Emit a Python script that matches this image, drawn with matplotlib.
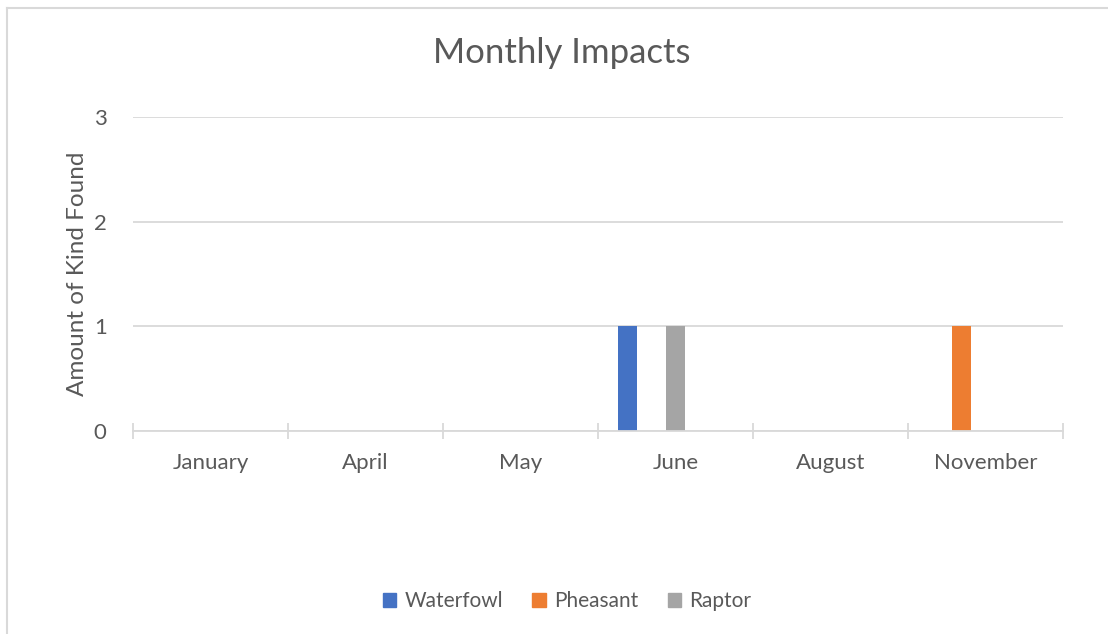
import matplotlib
matplotlib.use("Agg")
import matplotlib.pyplot as plt
import numpy as np
from matplotlib.lines import Line2D

months = ["January", "April", "May", "June", "August", "November"]
series_names = ["Waterfowl", "Pheasant", "Raptor"]
waterfowl = [0, 0, 0, 1, 0, 0]
pheasant = [0, 0, 0, 0, 0, 1]
raptor = [0, 0, 0, 1, 0, 0]
yticks = [0, 1, 2, 3]

colors = ["#4472C4", "#ED7D31", "#A5A5A5"]
offsets = [-0.31, -0.155, 0.0]
width = 0.123
text_color = "#595959"
grid_color = "#D9D9D9"

plt.rcParams['font.family'] = ['Lato', 'DejaVu Sans']

W, H = 1108, 634
fig = plt.figure(figsize=(W / 100, H / 100), dpi=100)
ax = fig.add_axes([133 / W, (H - 431) / H, (1063 - 133) / W, (431 - 117) / H])

x = np.arange(len(months))
for vals, c, off, name in zip([waterfowl, pheasant, raptor], colors, offsets, series_names):
    ax.bar(x + off, vals, width=width, color=c, label=name, zorder=3)

ax.set_xlim(-0.5, len(months) - 0.5)
ax.set_ylim(0, 3)
ax.set_yticks(yticks)
ax.set_yticklabels([str(v) for v in yticks])
ax.grid(axis='y', color=grid_color, linewidth=1.3, zorder=0)
for s in ['top', 'right', 'left']:
    ax.spines[s].set_visible(False)
ax.spines['bottom'].set_color(grid_color)
ax.spines['bottom'].set_linewidth(1.3)
ax.spines['bottom'].set_zorder(4)

ax.set_xticks(x)
ax.set_xticklabels(months)
ax.set_xticks(np.arange(-0.5, len(months)), minor=True)
ax.tick_params(axis='x', which='major', length=0, pad=16, labelsize=16, labelcolor=text_color)
ax.tick_params(axis='x', which='minor', length=11, direction='inout', color=grid_color, width=1.3)
ax.tick_params(axis='y', length=0, pad=19, labelsize=16, labelcolor=text_color)

ax.set_ylabel("Amount of Kind Found", fontsize=17.5, color=text_color, labelpad=4)
fig.text(562 / W, 1 - 53 / H, "Monthly Impacts", ha='center', va='center', fontsize=25, color=text_color)

handles = [plt.Rectangle((0, 0), 1, 1, color=c) for c in colors]
fig.legend(handles, series_names, loc='center', bbox_to_anchor=(567 / W, 1 - 601 / H), ncol=3,
           frameon=False, fontsize=15, labelcolor=text_color, handlelength=0.65, handleheight=0.65,
           handletextpad=0.4, columnspacing=1.4)

# chart border (extends beyond the image on right/bottom)
fig.add_artist(Line2D([7 / W, 7 / W], [0, 1 - 8 / H], color=grid_color, linewidth=1.5))
fig.add_artist(Line2D([7 / W, 1], [1 - 8 / H, 1 - 8 / H], color=grid_color, linewidth=1.5))

fig.savefig("out.png", dpi=100)
